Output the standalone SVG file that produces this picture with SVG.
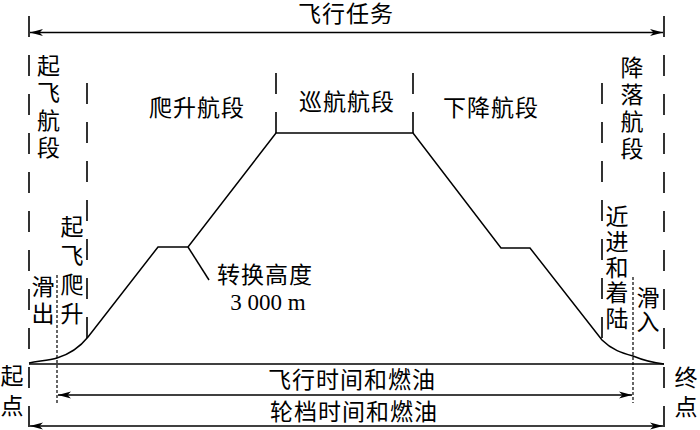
<svg xmlns="http://www.w3.org/2000/svg" width="700" height="430" viewBox="0 0 700 430">
<style>
.t{font-family:"Noto Sans CJK SC","Noto Sans CJK TC",sans-serif;font-size:23px;fill:#000;text-anchor:middle}
.h{letter-spacing:1px}
.v{font-family:"Noto Sans CJK SC","Noto Sans CJK TC",sans-serif;font-size:23px;fill:#000;writing-mode:vertical-rl;text-orientation:upright}
.n{font-family:"Liberation Serif",serif;font-size:23px;fill:#000;text-anchor:middle}
.ln{fill:none;stroke:#000;stroke-width:1.5}
.ds{fill:none;stroke:#000;stroke-width:1.6;stroke-dasharray:21 18}
.dt{fill:none;stroke:#000;stroke-width:1.2;stroke-dasharray:3 2}
.ar{fill:none;stroke:#000;stroke-width:1.5;marker-start:url(#ah);marker-end:url(#ah)}
</style>
<defs>
<marker id="ah" viewBox="0 0 13 8" refX="13" refY="4" markerWidth="13" markerHeight="8" markerUnits="userSpaceOnUse" orient="auto-start-reverse">
<path d="M0,0.6 L13,4 L0,7.4 L3.5,4 z" fill="#000"/>
</marker>
</defs>
<rect width="700" height="430" fill="#fff"/>
<g id="connectors">
<path class="ds" d="M29,16 V430"/>
<path class="ds" d="M664,16 V430"/>
<path class="ds" d="M87,83 V338"/>
<path class="ds" d="M602,83 V338"/>
<path class="ds" d="M276,73 V133"/>
<path class="ds" d="M413,73 V133"/>
<path class="dt" d="M57,275 V403"/>
<path class="dt" d="M633,277 V403"/>
<path class="ar" d="M30,32.5 H663"/>
<path class="ar" d="M58,395 H632"/>
<path class="ar" d="M30,426 H663"/>
<path class="ln" d="M29,364 H664"/>
<path class="ln" d="M29,363 C40,361 50,360 57,358 C70,354 80,347 88,337 L158,247 L188,247 L276,133 L413,133 L501,248 L530,248 L602,340 C612,350 622,353 633,356 C645,361 655,363 664,364"/>
<path class="ln" d="M188,247 L209,280"/>
</g>
<g id="mission"><text class="t h" x="346" y="22">飞行任务</text></g>
<g id="climb"><text class="t h" x="197" y="116">爬升航段</text></g>
<g id="cruise"><text class="t h" x="347" y="110">巡航航段</text></g>
<g id="descent"><text class="t h" x="491" y="116">下降航段</text></g>
<g id="transition"><text class="t h" x="265" y="283">转换高度</text><text class="n" x="268" y="310">3 000 m</text></g>
<g id="flight-time"><text class="t h" x="352" y="388">飞行时间和燃油</text></g>
<g id="block-time"><text class="t h" x="354" y="420">轮档时间和燃油</text></g>
<g id="takeoff-seg"><text class="v" x="48.5" y="53.5" letter-spacing="4.5">起飞航段</text></g>
<g id="landing-seg"><text class="v" x="632" y="55.5" letter-spacing="4">降落航段</text></g>
<g id="takeoff-climb"><text class="v" x="72" y="214.5" letter-spacing="6">起飞爬升</text></g>
<g id="taxi-out"><text class="v" x="43" y="274.5" letter-spacing="4">滑出</text></g>
<g id="approach"><text class="v" x="617" y="204.5" letter-spacing="2.5">近进和着陆</text></g>
<g id="taxi-in"><text class="v" x="648" y="285.5" letter-spacing="1.5">滑入</text></g>
<g id="start"><text class="v" x="12" y="363.5" letter-spacing="7">起点</text></g>
<g id="end"><text class="v" x="686" y="365.5" letter-spacing="6">终点</text></g>
</svg>
